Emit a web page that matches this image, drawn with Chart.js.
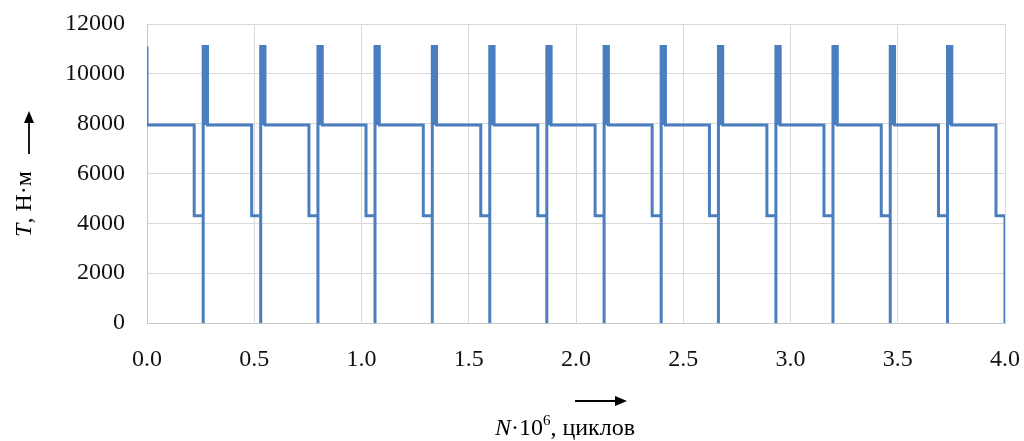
<!DOCTYPE html>
<html>
<head>
<meta charset="utf-8">
<script src="https://cdn.jsdelivr.net/npm/chart.js@4.4.0/dist/chart.umd.min.js"></script>
<style>
  html, body { margin: 0; padding: 0; background: #fff; }
  #wrap { width: 1024px; height: 441px; position: relative; }
</style>
</head>
<body>
<div id="wrap"><canvas id="torqueChart" width="1024" height="441"></canvas></div>
<script>
// N*10^6 where torque drops to zero (end of each block)
var cycleEnds = [0.262, 0.530, 0.797, 1.063, 1.330, 1.598, 1.864, 2.131, 2.397, 2.664, 2.932, 3.198, 3.465, 3.732, 4.000];
// N*10^6 where torque drops from base level to low level
var lowStarts = [0.220, 0.488, 0.755, 1.021, 1.288, 1.556, 1.822, 2.089, 2.355, 2.622, 2.890, 3.156, 3.423, 3.690, 3.958];
// torque levels, N*m
var peakLevel = 11100;
var baseLevel = 7950;
var lowLevel = 4300;
var zeroLevel = 0;
var peakWidth = 0.02;

var xTicks = [0, 0.5, 1.0, 1.5, 2.0, 2.5, 3.0, 3.5, 4.0];
var yTicks = [0, 2000, 4000, 6000, 8000, 10000, 12000];

var lineColor = '#4a7ebf';
var serif = '"Liberation Serif", "DejaVu Serif", serif';

function buildSteps() {
    var pts = [{x: 0, y: peakLevel}, {x: 0, y: baseLevel}];
    for (var i = 0; i < cycleEnds.length; i++) {
        var c = cycleEnds[i];
        pts.push({x: lowStarts[i], y: baseLevel});
        pts.push({x: lowStarts[i], y: lowLevel});
        pts.push({x: c, y: lowLevel});
        pts.push({x: c, y: zeroLevel});
        if (i < cycleEnds.length - 1) {
            pts.push({x: c, y: peakLevel});
            pts.push({x: c + peakWidth, y: peakLevel});
            pts.push({x: c + peakWidth, y: baseLevel});
        }
    }
    return pts;
}

function buildPeaks() {
    var pts = [];
    for (var i = 0; i < cycleEnds.length - 1; i++) {
        var c = cycleEnds[i] + peakWidth / 2;
        pts.push({x: c, y: baseLevel});
        pts.push({x: c, y: peakLevel});
        pts.push({x: c, y: null});
    }
    return pts;
}

function arrow(ctx, x1, y1, x2, y2) {
    var ang = Math.atan2(y2 - y1, x2 - x1);
    var hl = 12, hw = 5;
    ctx.beginPath();
    ctx.moveTo(x1, y1);
    ctx.lineTo(x2 - hl * Math.cos(ang), y2 - hl * Math.sin(ang));
    ctx.lineWidth = 1.8;
    ctx.strokeStyle = '#000';
    ctx.stroke();
    ctx.beginPath();
    ctx.moveTo(x2, y2);
    ctx.lineTo(x2 - hl * Math.cos(ang) - hw * Math.sin(ang), y2 - hl * Math.sin(ang) + hw * Math.cos(ang));
    ctx.lineTo(x2 - hl * Math.cos(ang) + hw * Math.sin(ang), y2 - hl * Math.sin(ang) - hw * Math.cos(ang));
    ctx.closePath();
    ctx.fillStyle = '#000';
    ctx.fill();
}

// axis titles with italic letters + arrows
var axisTitles = {
    id: 'axisTitles',
    afterDraw: function (chart) {
        var ctx = chart.ctx;
        ctx.save();
        ctx.fillStyle = '#000';
        ctx.textBaseline = 'alphabetic';

        // x title: N·10^6, циклов
        var fi = 'italic 24px ' + serif, fn = '24px ' + serif, fs = '15px ' + serif;
        var parts = [[fi, 'N', 0], [fn, '·10', 0], [fs, '6', -10], [fn, ', циклов', 0]];
        var w = 0;
        parts.forEach(function (p) { ctx.font = p[0]; w += ctx.measureText(p[1]).width; });
        var x = 565 - w / 2, y = 435;
        parts.forEach(function (p) {
            ctx.font = p[0];
            ctx.fillText(p[1], x, y + p[2]);
            x += ctx.measureText(p[1]).width;
        });
        arrow(ctx, 575, 401, 627, 401);

        // y title: T, Н·м (rotated)
        ctx.save();
        ctx.translate(31, 204);
        ctx.rotate(-Math.PI / 2);
        var yparts = [[fi, 'T', 0], [fn, ', Н·м', 0]];
        var wy = 0;
        yparts.forEach(function (p) { ctx.font = p[0]; wy += ctx.measureText(p[1]).width; });
        var xx = -wy / 2;
        yparts.forEach(function (p) {
            ctx.font = p[0];
            ctx.fillText(p[1], xx, 0);
            xx += ctx.measureText(p[1]).width;
        });
        ctx.restore();
        arrow(ctx, 29, 154, 29, 111);
        ctx.restore();
    }
};

var ctx = document.getElementById('torqueChart').getContext('2d');
var torqueChart = new Chart(ctx, {
    type: 'line',
    data: {
        datasets: [{
            label: 'T',
            data: buildSteps(),
            borderColor: lineColor,
            borderWidth: 3,
            pointRadius: 0,
            tension: 0,
            fill: false
        }, {
            label: 'peaks',
            data: buildPeaks(),
            borderColor: lineColor,
            borderWidth: 5,
            borderCapStyle: 'butt',
            pointRadius: 0,
            spanGaps: false,
            fill: false
        }]
    },
    options: {
        responsive: false,
        animation: false,
        events: [],
        layout: {padding: {left: 0, right: 19, top: 24, bottom: 0}},
        plugins: {
            legend: {display: false},
            tooltip: {enabled: false}
        },
        scales: {
            x: {
                type: 'linear',
                min: 0,
                max: 4,
                afterBuildTicks: function (axis) {
                    axis.ticks = xTicks.map(function (v) { return {value: v}; });
                },
                afterFit: function (axis) {
                    axis.height = 118;
                    axis.paddingLeft = 0;
                    axis.paddingRight = 0;
                },
                grid: {color: '#d9d9d9', lineWidth: 1, drawTicks: false},
                border: {color: '#c8c8c8'},
                ticks: {
                    color: '#111',
                    padding: 22,
                    maxRotation: 0,
                    font: {family: serif, size: 24},
                    callback: function (v) { return Number(v).toFixed(1); }
                }
            },
            y: {
                min: 0,
                max: 12000,
                afterBuildTicks: function (axis) {
                    axis.ticks = yTicks.map(function (v) { return {value: v}; });
                },
                afterFit: function (axis) {
                    axis.width = 147;
                    axis.paddingTop = 0;
                    axis.paddingBottom = 0;
                },
                grid: {color: '#d9d9d9', lineWidth: 1, drawTicks: false},
                border: {color: '#c8c8c8'},
                ticks: {
                    color: '#111',
                    padding: 22,
                    font: {family: serif, size: 24},
                    callback: function (v) { return String(v); }
                }
            }
        }
    },
    plugins: [axisTitles]
});
</script>
</body>
</html>
